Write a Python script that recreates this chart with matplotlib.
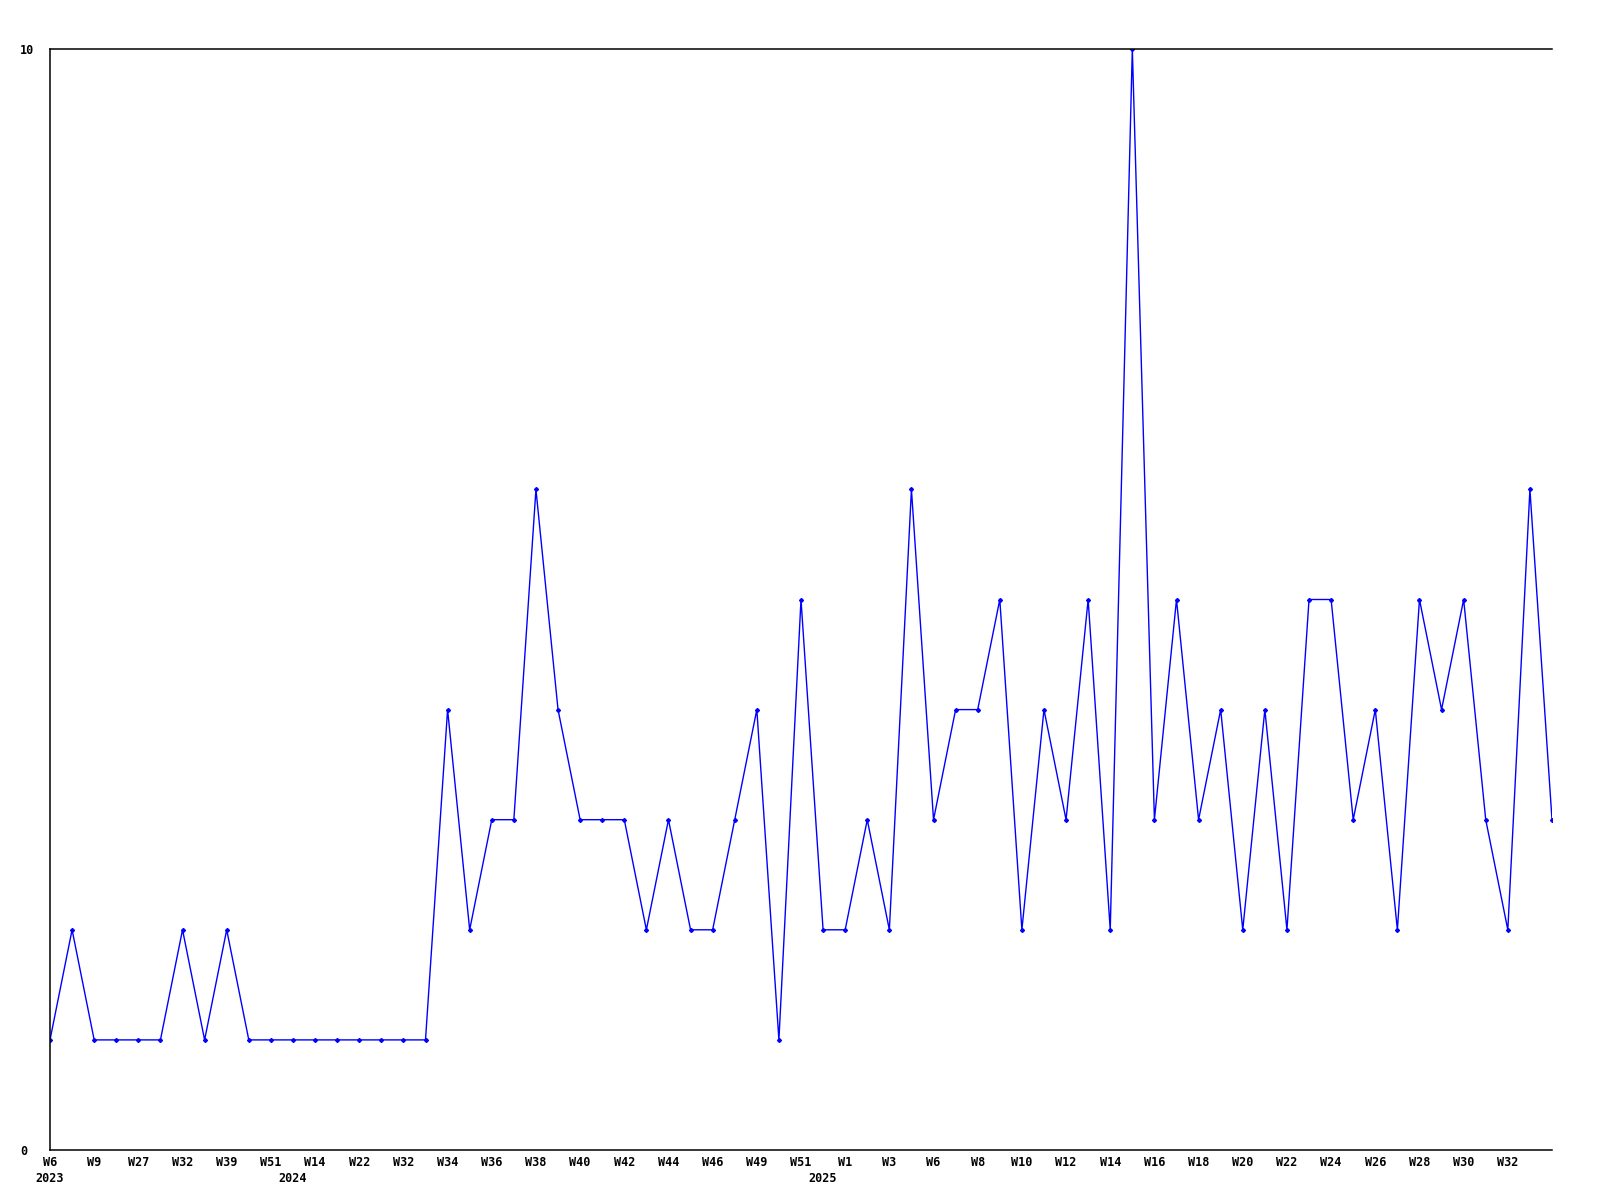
import matplotlib
matplotlib.use("Agg")
import matplotlib.pyplot as plt
import numpy as np

# weekly counts, one per point
values = [1, 2, 1, 1, 1, 1, 2, 1, 2, 1,
          1, 1, 1, 1, 1, 1, 1, 1, 4, 2,
          3, 3, 6, 4, 3, 3, 3, 2, 3, 2,
          2, 3, 4, 1, 5, 2, 2, 3, 2, 6,
          3, 4, 4, 5, 2, 4, 3, 5, 2, 10,
          3, 5, 3, 4, 2, 4, 2, 5, 5, 3,
          4, 2, 5, 4, 5, 3, 2, 6, 3]

# labels shown under every other point
tick_labels = ["W6", "W9", "W27", "W32", "W39", "W51", "W14", "W22", "W32",
               "W34", "W36", "W38", "W40", "W42", "W44", "W46", "W49", "W51",
               "W1", "W3", "W6", "W8", "W10", "W12", "W14", "W16", "W18",
               "W20", "W22", "W24", "W26", "W28", "W30", "W32"]
year_labels = ["2023", "2024", "2025"]
year_index = [0, 11, 35]

x = np.arange(len(values))
blue = "#0000ff"
font = dict(family="DejaVu Sans Mono", fontweight="bold", fontsize=8.5)

fig = plt.figure(figsize=(16, 12), dpi=100)
ax = fig.add_axes([50 / 1600, 50 / 1200, 1502 / 1600, 1101 / 1200])
ax.plot(x, values, color=blue, linewidth=1, marker="D", markersize=2,
        markerfacecolor=blue, markeredgecolor=blue)

ax.set_xlim(0, len(values) - 1)
ax.set_ylim(0, 10)
ax.spines["right"].set_visible(False)
for s in ["left", "bottom", "top"]:
    ax.spines[s].set_linewidth(1.1)
    ax.spines[s].set_color("black")

# y labels sit left-aligned near the figure edge
ax.set_yticks([0, 10])
ax.set_yticklabels(["0", "10"], ha="left", **font)
ax.tick_params(axis="y", length=0, pad=21.5)

ax.set_xticks(x[::2][:len(tick_labels)])
ax.set_xticklabels(tick_labels, **font)
ax.tick_params(axis="x", length=0, pad=4)

for lab, i in zip(year_labels, year_index):
    ax.annotate(lab, xy=(i, 0), xycoords="data", xytext=(0, -16),
                textcoords="offset points", ha="center", va="top", **font)

fig.savefig("out.png", dpi=100)
